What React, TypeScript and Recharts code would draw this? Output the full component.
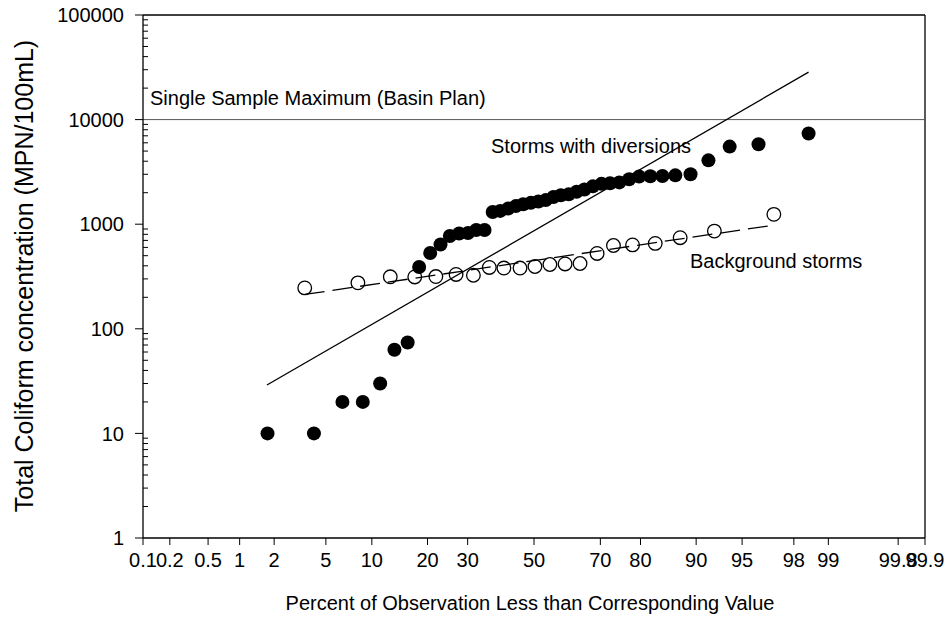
import React from 'react';
import { ScatterChart, Scatter, XAxis, YAxis, ReferenceLine, ReferenceDot } from 'recharts';

// percent values on the probability axis, concentrations on the log axis
const divPct = [1.76, 4.1, 6.5, 8.8, 11.2, 13.5, 15.9, 18.2, 20.6, 23.0, 25.3, 27.7, 30.1, 32.4, 34.8, 37.2, 39.5, 41.9, 44.3, 46.6, 49.0, 51.4, 53.7, 56.1, 58.4, 60.8, 63.2, 65.5, 67.9, 70.3, 72.6, 75.0, 77.4, 79.7, 82.1, 84.5, 86.8, 89.2, 91.6, 93.9, 96.2, 98.5];
const divVal = [10, 10, 20, 20, 30, 63, 74, 390, 530, 640, 770, 815, 825, 880, 880, 1310, 1340, 1410, 1490, 1550, 1600, 1650, 1700, 1820, 1890, 1930, 2040, 2150, 2300, 2430, 2460, 2510, 2690, 2850, 2870, 2890, 2930, 3000, 4080, 5520, 5810, 7360];

const bgPct = [3.5, 8.2, 12.8, 17.3, 21.9, 26.9, 31.6, 36.2, 40.6, 45.6, 50.3, 55.0, 59.7, 64.2, 69.1, 73.5, 78.2, 83.1, 87.6, 92.3, 97.1];
const bgVal = [246, 275, 314, 313, 316, 331, 325, 386, 381, 381, 394, 412, 417, 421, 525, 626, 634, 655, 743, 859, 1242];

const divFitPct = [1.74, 98.5];
const divFitVal = [29, 28400];
const bgFitPct = [3.5, 97.1];
const bgFitVal = [213, 980];

const xTickPct = [0.1, 0.2, 0.5, 1, 2, 5, 10, 20, 30, 50, 70, 80, 90, 95, 98, 99, 99.8, 99.9];
const xTickLabels = ['0.1', '0.2', '0.5', '1', '2', '5', '10', '20', '30', '50', '70', '80', '90', '95', '98', '99', '99.8', '99.9'];
const yTicks = [1, 10, 100, 1000, 10000, 100000];
const yMinor = [2, 3, 4, 5, 6, 7, 8, 9, 20, 30, 40, 50, 60, 70, 80, 90, 200, 300, 400, 500, 600, 700, 800, 900, 2000, 3000, 4000, 5000, 6000, 7000, 8000, 9000, 20000, 30000, 40000, 50000, 60000, 70000, 80000, 90000];
const limit = 10000;

// inverse normal cdf (Acklam), percent -> z
function probit(pct: number) {
  const p = pct / 100;
  const a = [-3.969683028665376e1, 2.209460984245205e2, -2.759285104469687e2, 1.38357751867269e2, -3.066479806614716e1, 2.506628277459239];
  const b = [-5.447609879822406e1, 1.615858368580409e2, -1.556989798598866e2, 6.680131188771972e1, -1.328068155288572e1];
  const c = [-7.784894002430293e-3, -3.223964580411365e-1, -2.400758277161838, -2.549732539343734, 4.374664141464968, 2.938163982698783];
  const d = [7.784695709041462e-3, 3.224671290700398e-1, 2.445134137142996, 3.754408661907416];
  const pl = 0.02425;
  if (p < pl) {
    const q = Math.sqrt(-2 * Math.log(p));
    return (((((c[0] * q + c[1]) * q + c[2]) * q + c[3]) * q + c[4]) * q + c[5]) / ((((d[0] * q + d[1]) * q + d[2]) * q + d[3]) * q + 1);
  }
  if (p > 1 - pl) {
    const q = Math.sqrt(-2 * Math.log(1 - p));
    return -(((((c[0] * q + c[1]) * q + c[2]) * q + c[3]) * q + c[4]) * q + c[5]) / ((((d[0] * q + d[1]) * q + d[2]) * q + d[3]) * q + 1);
  }
  const q = p - 0.5;
  const r = q * q;
  return ((((((a[0] * r + a[1]) * r + a[2]) * r + a[3]) * r + a[4]) * r + a[5]) * q) / (((((b[0] * r + b[1]) * r + b[2]) * r + b[3]) * r + b[4]) * r + 1);
}

const toPoints = (pct: number[], val: number[]) => pct.map((p, i) => ({ x: probit(p), y: val[i] }));

const divData = toPoints(divPct, divVal);
const bgData = toPoints(bgPct, bgVal);
const divFit = toPoints(divFitPct, divFitVal);
const bgFit = toPoints(bgFitPct, bgFitVal);
const xTicks = xTickPct.map(probit);
const xDomain = [probit(0.1), probit(99.9)];

const FONT = '"Liberation Sans", Arial, sans-serif';
const tickStyle = { fill: '#000', fontSize: 20, fontFamily: FONT };

const FilledDot = (props: any) => <circle cx={props.cx} cy={props.cy} r={7} fill="#000" />;
const OpenDot = (props: any) => <circle cx={props.cx} cy={props.cy} r={6.8} fill="none" stroke="#000" strokeWidth={1.3} />;
// short inward tick for the minor log values
const MinorTick = (props: any) => <line x1={props.cx} x2={props.cx + 5} y1={props.cy} y2={props.cy} stroke="#000" strokeWidth={1} />;

export default function App() {
  return (
    <div style={{ position: 'absolute', left: 0, top: 0, width: 948, height: 628, background: '#fff', fontFamily: FONT }}>
      <ScatterChart width={948} height={628} margin={{ top: 15, right: 23, bottom: 0, left: 0 }}>
        <XAxis
          type="number"
          dataKey="x"
          domain={xDomain}
          allowDataOverflow
          ticks={xTicks}
          interval={0}
          tickFormatter={(_v: number, i: number) => xTickLabels[i]}
          height={90}
          tickSize={7}
          tickMargin={8}
          tick={tickStyle}
          stroke="#000"
          axisLine={{ stroke: '#000', strokeWidth: 1.3 }}
        />
        <YAxis
          type="number"
          dataKey="y"
          scale="log"
          domain={[1, 100000]}
          allowDataOverflow
          ticks={yTicks}
          interval={0}
          width={143}
          tickSize={8}
          tickMargin={11}
          tick={tickStyle}
          stroke="#000"
          axisLine={{ stroke: '#000', strokeWidth: 1.3 }}
        />

        {/* frame: top and right edges */}
        <ReferenceLine y={100000} stroke="#000" strokeWidth={1.3} />
        <ReferenceLine x={xDomain[1]} stroke="#000" strokeWidth={1.3} />

        {yMinor.map(v => (
          <ReferenceDot key={v} x={xDomain[0]} y={v} shape={MinorTick} />
        ))}

        <ReferenceLine
          y={limit}
          stroke="#555"
          strokeWidth={1}
          label={{
            content: (p: any) => (
              <text x={p.viewBox.x + 7} y={p.viewBox.y - 15} fontSize={20} fontFamily={FONT} fill="#000">
                Single Sample Maximum (Basin Plan)
              </text>
            ),
          }}
        />
        <ReferenceLine segment={[divFit[0], divFit[1]]} stroke="#000" strokeWidth={1.3} />
        <ReferenceLine segment={[bgFit[0], bgFit[1]]} stroke="#000" strokeWidth={1.3} strokeDasharray="20 8" />

        <Scatter data={bgData} shape={OpenDot} isAnimationActive={false} />
        <Scatter data={divData} shape={FilledDot} isAnimationActive={false} />

        <text x={491} y={153} fontSize={20} fontFamily={FONT} fill="#000">Storms with diversions</text>
        <text x={690} y={268} fontSize={20} fontFamily={FONT} fill="#000">Background storms</text>
        <text x={33} y={276} fontSize={25} fontFamily={FONT} fill="#000" textAnchor="middle" transform="rotate(-90 33 276)">
          Total Coliform concentration (MPN/100mL)
        </text>
        <text x={530} y={610} fontSize={20} fontFamily={FONT} fill="#000" textAnchor="middle">
          Percent of Observation Less than Corresponding Value
        </text>
      </ScatterChart>
    </div>
  );
}
